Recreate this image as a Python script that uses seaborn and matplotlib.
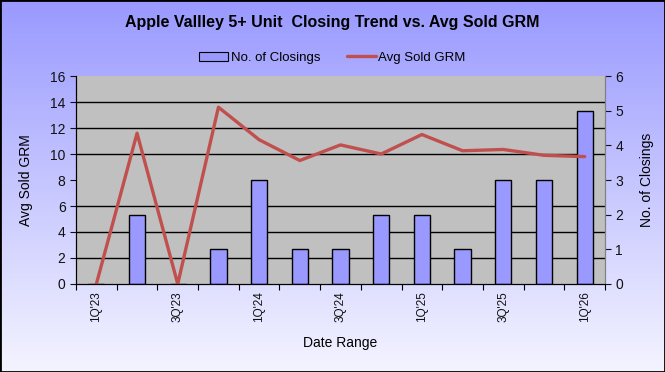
import numpy as np
import pandas as pd
import matplotlib
matplotlib.use("Agg")
import matplotlib.pyplot as plt
import seaborn as sns
from matplotlib.colors import LinearSegmentedColormap
from matplotlib.patches import Rectangle, Patch
from matplotlib.lines import Line2D

quarters = ["1Q'23", "2Q'23", "3Q'23", "4Q'23", "1Q'24", "2Q'24", "3Q'24",
            "4Q'24", "1Q'25", "2Q'25", "3Q'25", "4Q'25", "1Q'26"]
closings = [0, 2, 0, 1, 3, 1, 1, 2, 2, 1, 3, 3, 5]
avg_grm = [0.0, 11.6, 0.0, 13.6, 11.1, 9.5, 10.7, 10.0, 11.5, 10.25, 10.35, 9.9, 9.8]

df = pd.DataFrame({"quarter": quarters, "closings": closings, "grm": avg_grm,
                   "pos": np.arange(len(quarters))})

sns.set_style("white")
plt.rcParams["font.family"] = ["Liberation Sans", "DejaVu Sans"]
plt.rcParams["text.color"] = "black"
plt.rcParams["axes.labelcolor"] = "black"

bar_color = "#9999ff"
line_color = "#c0504d"

fig = plt.figure(figsize=(6.65, 3.72), dpi=100)

# gradient background
bg = fig.add_axes([0, 0, 1, 1], zorder=-10)
grad = np.linspace(0, 1, 256).reshape(-1, 1)
cmap = LinearSegmentedColormap.from_list("bg", ["#9999ff", "#f4f4ff"])
bg.imshow(grad, aspect="auto", cmap=cmap, extent=[0, 1, 0, 1])
bg.set_axis_off()
fig.patches.append(Rectangle((0, 0), 1, 1, transform=fig.transFigure,
                             fill=False, edgecolor="black", linewidth=2))

ax = fig.add_axes([0.1143, 0.2366, 0.7955, 0.559])
ax.set_facecolor("#c0c0c0")
sns.barplot(data=df, x="quarter", y="closings", color=bar_color, width=0.4,
            edgecolor="black", linewidth=1, saturation=1, ax=ax, zorder=2)
ax.set_xlim(-0.5, len(quarters) - 0.5)
ax.set_ylim(0, 6)

ax2 = ax.twinx()
ax2.patch.set_visible(False)
sns.lineplot(data=df, x="pos", y="grm", color=line_color, linewidth=2.4, ax=ax2)
ax2.set_ylim(0, 16)
ax2.set_yticks(range(0, 17, 2))
ax2.yaxis.tick_left()
ax2.yaxis.set_label_position("left")
ax2.tick_params(axis="y", direction="out", length=4, labelsize=10,
                colors="#111111", left=True, right=False)
ax2.set_ylabel("Avg Sold GRM", fontsize=10, labelpad=12)
ax2.set_xlabel("")

# gridlines follow the left (GRM) scale
ax.set_yticks(np.arange(0, 6.01, 0.75), minor=True)
ax.grid(True, which="minor", axis="y", color="black", linewidth=1, zorder=0)
ax.set_axisbelow(True)
ax.set_yticks(range(0, 7))
ax.yaxis.tick_right()
ax.yaxis.set_label_position("right")
ax.tick_params(axis="y", which="major", direction="out", length=4, labelsize=10,
               colors="#111111", right=True, left=False)
ax.tick_params(axis="y", which="minor", length=0, left=False, right=False)
ax.set_ylabel("No. of Closings", fontsize=10, labelpad=12)

# category boundaries get ticks, every other category gets a label
ax.set_xticks(np.arange(-0.5, len(quarters), 1.0))
ax.set_xticklabels([])
ax.set_xticks(df["pos"][::2], minor=True)
ax.set_xticklabels(df["quarter"][::2], minor=True, rotation=90, fontsize=8.5)
ax.tick_params(axis="x", which="major", direction="out", length=4, bottom=True,
               color="black")
ax.tick_params(axis="x", which="minor", length=0, pad=5, labelcolor="#111111")
ax.set_xlabel("Date Range", fontsize=10, labelpad=10)

for a in (ax, ax2):
    a.spines["top"].set_visible(False)
    a.spines["left"].set_color("black")
    a.spines["bottom"].set_color("black")
    a.spines["right"].set_color("#808080")

fig.text(0.5, 0.94, "Apple Vallley 5+ Unit  Closing Trend vs. Avg Sold GRM",
         ha="center", va="center", fontsize=11.5, fontweight="bold", color="black")

handles = [Patch(facecolor=bar_color, edgecolor="black", linewidth=0.8),
           Line2D([0], [0], color=line_color, linewidth=2.4)]
fig.legend(handles, ["No. of Closings", "Avg Sold GRM"], loc="center",
           bbox_to_anchor=(0.5, 0.845), ncol=2, frameon=False, fontsize=9.5,
           handlelength=2.2, handletextpad=0.2, columnspacing=2.0)

fig.savefig("out.png", dpi=100)
